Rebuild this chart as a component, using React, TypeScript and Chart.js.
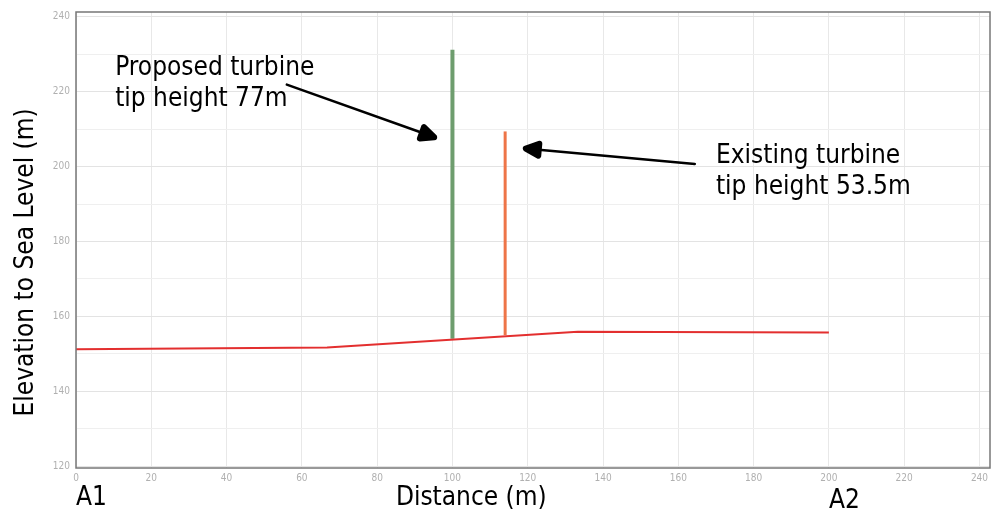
import { useEffect, useRef } from 'react';
import { Chart, registerables } from 'chart.js';

Chart.register(...registerables);

// ---- data ----
const terrainDistance = [0, 66.7, 133.3, 200];
const terrainElevation = [151.2, 151.7, 155.9, 155.7];

const proposedDistance = [100, 100];
const proposedElevation = [154.0, 231.2];

const existingDistance = [114, 114];
const existingElevation = [155.0, 209.4];

const xTickValues = [0, 20, 40, 60, 80, 100, 120, 140, 160, 180, 200, 220, 240];
const yTickValues = [120, 130, 140, 150, 160, 170, 180, 190, 200, 210, 220, 230, 240];
const yLabelledTicks = [120, 140, 160, 180, 200, 220, 240];

const xRange = [0, 242.8];
const yRange = [119.5, 241.3];

const noteLines = [
  ['Proposed turbine', 'tip height 77m'],
  ['Existing turbine', 'tip height 53.5m'],
];
const noteX = [10.4, 170.0];
const noteY = [224.6, 201.0];

const arrowFromX = [56.0, 164.4];
const arrowFromY = [221.9, 200.7];
const arrowToX = [95.9, 118.7];
const arrowToY = [207.6, 204.9];

const endLabels = ['A1', 'A2'];
const endLabelX = [0, 200];

const xTitle = 'Distance (m)';
const xTitleCenter = 105;
const yTitle = 'Elevation to Sea Level (m)';
const yTitleCenter = 174.4;

const FONT = '"DejaVu Sans Condensed", "DejaVu Sans", sans-serif';

const pts = (xs: number[], ys: number[]) => xs.map((x, i) => ({ x, y: ys[i] }));

export default function App() {
  const ref = useRef<HTMLCanvasElement | null>(null);

  useEffect(() => {
    if (!ref.current) return;

    const overlay = {
      id: 'overlay',
      afterDatasetsDraw(chart: any) {
        const { ctx, chartArea, scales } = chart;
        const xs = scales.x;
        const ys = scales.y;
        ctx.save();
        // box border
        ctx.strokeStyle = '#777777';
        ctx.lineWidth = 1.5;
        ctx.strokeRect(chartArea.left, chartArea.top, chartArea.right - chartArea.left, chartArea.bottom - chartArea.top);

        // arrows
        ctx.strokeStyle = '#000';
        ctx.fillStyle = '#000';
        for (let i = 0; i < arrowFromX.length; i++) {
          const x1 = xs.getPixelForValue(arrowFromX[i]);
          const y1 = ys.getPixelForValue(arrowFromY[i]);
          const x2 = xs.getPixelForValue(arrowToX[i]);
          const y2 = ys.getPixelForValue(arrowToY[i]);
          const ang = Math.atan2(y2 - y1, x2 - x1);
          const headLen = 13;
          const headW = 6;
          const tx = x2 - 3 * Math.cos(ang);
          const ty = y2 - 3 * Math.sin(ang);
          const bx = tx - headLen * Math.cos(ang);
          const by = ty - headLen * Math.sin(ang);
          ctx.lineWidth = 2.5;
          ctx.lineCap = 'round';
          ctx.beginPath();
          ctx.moveTo(x1, y1);
          ctx.lineTo(bx, by);
          ctx.stroke();
          ctx.lineJoin = 'round';
          ctx.lineWidth = 6;
          ctx.beginPath();
          ctx.moveTo(tx, ty);
          ctx.lineTo(bx + headW * Math.sin(ang), by - headW * Math.cos(ang));
          ctx.lineTo(bx - headW * Math.sin(ang), by + headW * Math.cos(ang));
          ctx.closePath();
          ctx.fill();
          ctx.stroke();
        }

        // notes
        ctx.font = `26px ${FONT}`;
        ctx.fillStyle = '#000';
        ctx.textAlign = 'left';
        ctx.textBaseline = 'alphabetic';
        for (let i = 0; i < noteLines.length; i++) {
          const x = xs.getPixelForValue(noteX[i]);
          const y = ys.getPixelForValue(noteY[i]);
          noteLines[i].forEach((t, j) => ctx.fillText(t, x, y + j * 31));
        }

        // end labels + x title
        for (let i = 0; i < endLabels.length; i++) {
          ctx.fillText(endLabels[i], xs.getPixelForValue(endLabelX[i]), chartArea.bottom + 37 + i * 3);
        }
        ctx.textAlign = 'center';
        ctx.fillText(xTitle, xs.getPixelForValue(xTitleCenter), chartArea.bottom + 37);

        // y title
        ctx.translate(33, ys.getPixelForValue(yTitleCenter));
        ctx.rotate(-Math.PI / 2);
        ctx.fillText(yTitle, 0, 0);
        ctx.restore();
      },
    };

    const chart = new Chart(ref.current, {
      type: 'line',
      data: {
        datasets: [
          {
            data: pts(terrainDistance, terrainElevation),
            borderColor: '#e32f2f',
            borderWidth: 2,
            pointRadius: 0,
            tension: 0,
          },
          {
            data: pts(proposedDistance, proposedElevation),
            borderColor: '#6e9d6e',
            borderWidth: 4,
            pointRadius: 0,
            borderCapStyle: 'butt',
          },
          {
            data: pts(existingDistance, existingElevation),
            borderColor: '#ee7548',
            borderWidth: 3,
            pointRadius: 0,
            borderCapStyle: 'butt',
          },
        ],
      },
      options: {
        animation: false,
        responsive: true,
        maintainAspectRatio: false,
        layout: { padding: { top: 10, right: 11, left: 0, bottom: 0 } },
        plugins: { legend: { display: false }, tooltip: { enabled: false } },
        scales: {
          x: {
            type: 'linear',
            min: xRange[0],
            max: xRange[1],
            afterFit(scale: any) {
              scale.height = 50;
            },
            afterBuildTicks(scale: any) {
              scale.ticks = xTickValues.map((v) => ({ value: v }));
            },
            border: { display: false },
            grid: { color: '#e8e8e8', drawTicks: false, lineWidth: 1 },
            ticks: {
              padding: 4,
              color: '#b0b0b0',
              font: { family: FONT, size: 10 },
              maxRotation: 0,
              autoSkip: false,
              callback: (v: any) => String(v),
            },
          },
          y: {
            type: 'linear',
            min: yRange[0],
            max: yRange[1],
            afterFit(scale: any) {
              scale.width = 76;
            },
            afterBuildTicks(scale: any) {
              scale.ticks = yTickValues.map((v) => ({ value: v }));
            },
            border: { display: false },
            grid: {
              drawTicks: false,
              color: (c: any) => (yLabelledTicks.includes(c.tick?.value) ? '#e3e3e3' : '#efefef'),
              lineWidth: 1,
            },
            ticks: {
              padding: 6,
              color: '#b0b0b0',
              font: { family: FONT, size: 10 },
              autoSkip: false,
              callback: (v: any) => (yLabelledTicks.includes(v) ? String(v) : ''),
            },
          },
        },
      },
      plugins: [overlay],
    } as any);

    return () => chart.destroy();
  }, []);

  return (
    <div style={{ position: 'fixed', left: 0, top: 0, width: 1001, height: 518, background: '#fff' }}>
      <canvas ref={ref} />
    </div>
  );
}
